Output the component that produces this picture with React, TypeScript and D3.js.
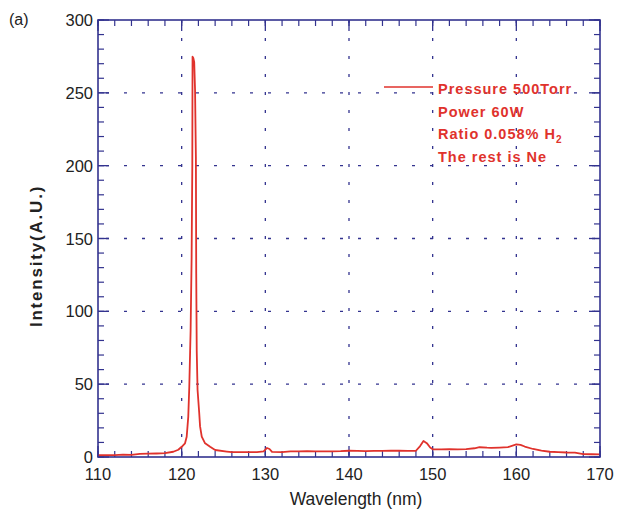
import React from "react";
import * as d3 from "d3";

const wavelengths = [110, 111, 112, 113, 114, 115, 116, 117, 118, 119, 119.6, 120, 120.4, 120.6, 120.79, 120.91, 121.07, 121.19, 121.27, 121.3, 121.39, 121.5, 121.6, 121.7, 121.74, 121.8, 121.9, 122.1, 122.2, 122.4, 122.8, 123.4, 124, 125.4, 126, 127, 128, 129, 129.8, 130.2, 130.5, 130.8, 132, 133, 134, 135, 136, 137, 138, 139, 140, 141, 142, 143, 144, 145, 146, 147, 148, 148.5, 148.9, 149.3, 149.7, 150, 151, 152, 153, 154, 155, 155.6, 156.5, 157, 158, 159, 160, 160.5, 161, 162, 163, 164, 165, 166, 167, 168, 169, 170];
const intensities = [1.2, 1.2, 1.3, 1.6, 1.5, 2.2, 2.3, 2.4, 2.6, 3.6, 5, 7, 9.4, 13.9, 27.7, 48, 87, 137, 199, 274.8, 274, 271, 252, 206, 126, 73, 46, 30, 21, 14, 9.4, 7, 4.8, 3.7, 3.3, 3.3, 3.4, 3.4, 3.8, 6.2, 5.5, 3.5, 3.4, 3.9, 3.8, 4, 3.9, 3.9, 3.9, 4, 4.3, 4.2, 4.1, 4.2, 4.2, 4.3, 4.3, 4.2, 4.3, 7.5, 11, 9.5, 6.5, 5.3, 5.3, 5.4, 5.3, 5.4, 6, 6.7, 6.4, 6.3, 6.5, 6.8, 8.7, 8.3, 7.2, 5.5, 4.4, 3.6, 3.4, 3.1, 3, 2, 1.9, 1.8];

const xTicks = [110, 120, 130, 140, 150, 160, 170];
const yTicks = [0, 50, 100, 150, 200, 250, 300];
const xMinor = d3.range(110, 170.01, 2);
const yMinor = d3.range(0, 300.01, 10);
const legendLines = ["Pressure 500Torr", "Power 60W", "Ratio 0.058% H", "The rest is Ne"];

const AXIS = "#33338f";
const RED = "#e0322c";

export default function App() {
  const left = 98, right = 600, top = 20, bottom = 457;
  const x = d3.scaleLinear().domain([110, 170]).range([left, right]);
  const y = d3.scaleLinear().domain([0, 300]).range([bottom, top]);
  const line = d3
    .line<number>()
    .x((_, i) => x(wavelengths[i]))
    .y((d) => y(d));
  const font = "'Liberation Sans', Arial, sans-serif";

  return (
    <svg width={618} height={514} style={{ position: "absolute", left: 0, top: 0, background: "#fff" }} fontFamily={font}>
      {/* grid */}
      {xTicks.slice(1, -1).map((t) => (
        <line key={"gx" + t} x1={x(t)} x2={x(t)} y1={top} y2={bottom} stroke={AXIS} strokeWidth={1.3} strokeDasharray="3,15" />
      ))}
      {yTicks.slice(1, -1).map((t) => (
        <line key={"gy" + t} x1={left} x2={right} y1={y(t)} y2={y(t)} stroke={AXIS} strokeWidth={1.3} strokeDasharray="3,15" strokeDashoffset={-8} />
      ))}
      {/* minor ticks */}
      {xMinor.map((t) => (
        <g key={"xm" + t}>
          <line x1={x(t)} x2={x(t)} y1={bottom} y2={bottom - 6} stroke={AXIS} strokeWidth={1.2} />
          <line x1={x(t)} x2={x(t)} y1={top} y2={top + 6} stroke={AXIS} strokeWidth={1.2} />
        </g>
      ))}
      {yMinor.map((t) => (
        <g key={"ym" + t}>
          <line x1={left} x2={left + 6} y1={y(t)} y2={y(t)} stroke={AXIS} strokeWidth={1.2} />
          <line x1={right} x2={right - 6} y1={y(t)} y2={y(t)} stroke={AXIS} strokeWidth={1.2} />
        </g>
      ))}
      {xTicks.map((t) => (
        <g key={"xM" + t}>
          <line x1={x(t)} x2={x(t)} y1={bottom} y2={bottom - 11} stroke={AXIS} strokeWidth={1.3} />
          <line x1={x(t)} x2={x(t)} y1={top} y2={top + 11} stroke={AXIS} strokeWidth={1.3} />
          <text x={x(t)} y={480} textAnchor="middle" fontSize={16.5} fill="#222">{t}</text>
        </g>
      ))}
      {yTicks.map((t) => (
        <g key={"yM" + t}>
          <line x1={left} x2={left + 11} y1={y(t)} y2={y(t)} stroke={AXIS} strokeWidth={1.3} />
          <line x1={right} x2={right - 11} y1={y(t)} y2={y(t)} stroke={AXIS} strokeWidth={1.3} />
          <text x={93} y={y(t) + 6} textAnchor="end" fontSize={16.5} fill="#222">{t}</text>
        </g>
      ))}
      {/* data */}
      <path d={line(intensities) || ""} fill="none" stroke={RED} strokeWidth={1.8} strokeLinejoin="round" />
      {/* frame */}
      <rect x={left} y={top} width={right - left} height={bottom - top} fill="none" stroke={AXIS} strokeWidth={1.6} />
      {/* legend */}
      <line x1={384} x2={433} y1={87} y2={87} stroke={RED} strokeWidth={1.4} />
      <g fill={RED} fontWeight="bold" fontSize={14.5} letterSpacing={1}>
        <text x={438} y={94}>{legendLines[0]}</text>
        <text x={438} y={117}>{legendLines[1]}</text>
        <text x={438} y={139}>
          {legendLines[2]}
          <tspan fontSize={10} dy={4}>2</tspan>
        </text>
        <text x={438} y={162}>{legendLines[3]}</text>
      </g>
      {/* labels */}
      <text x={9} y={25} fontSize={16} fill="#222">(a)</text>
      <text x={356} y={505} textAnchor="middle" fontSize={17.5} fill="#222">Wavelength (nm)</text>
      <text transform="translate(42,256) rotate(-90)" textAnchor="middle" fontSize={17} fontWeight="bold" letterSpacing={1.8} fill="#222">Intensity(A.U.)</text>
    </svg>
  );
}
